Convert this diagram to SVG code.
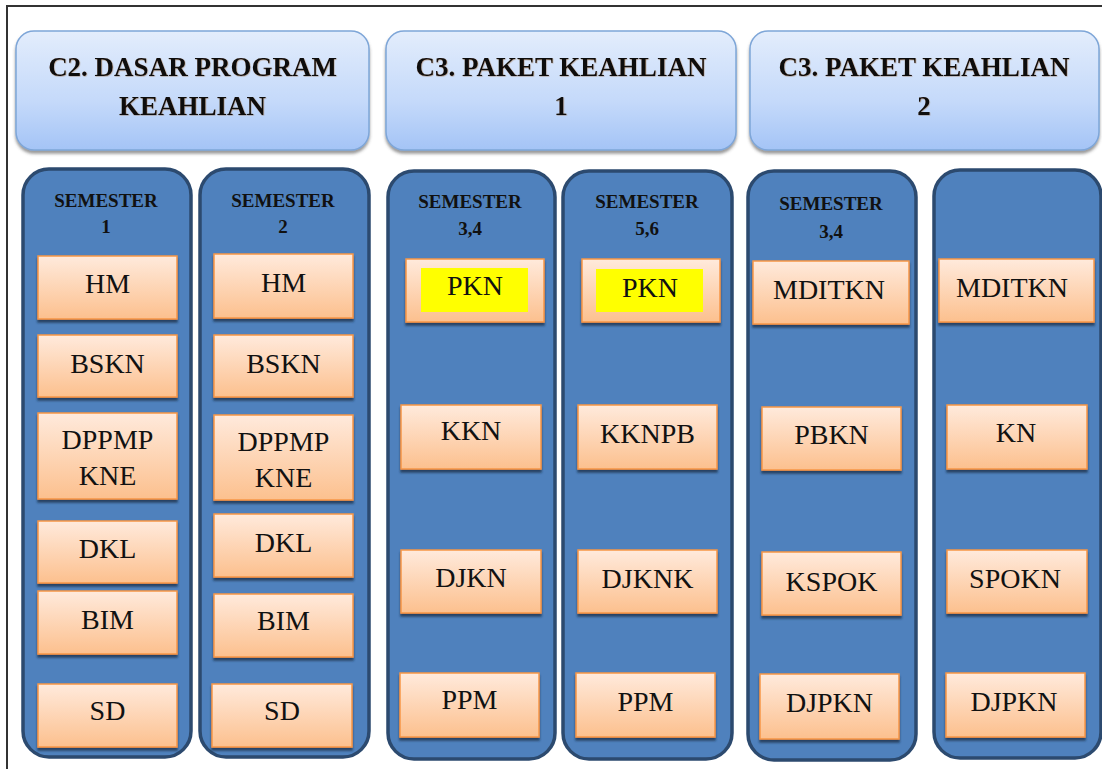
<svg xmlns="http://www.w3.org/2000/svg" width="1102" height="769" viewBox="0 0 1102 769">
<defs>
<linearGradient id="gHead" x1="0" y1="0" x2="0" y2="1">
<stop offset="0" stop-color="#e3edfc"/>
<stop offset="0.6" stop-color="#c4d9fa"/>
<stop offset="1" stop-color="#a4c4f6"/>
</linearGradient>
<linearGradient id="gBox" x1="0" y1="0" x2="0" y2="1">
<stop offset="0" stop-color="#ffeadc"/>
<stop offset="1" stop-color="#fcc08e"/>
</linearGradient>
<filter id="shHead" x="-5%" y="-5%" width="110%" height="120%">
<feDropShadow dx="0" dy="3" stdDeviation="1.5" flood-color="#555" flood-opacity="0.6"/>
</filter>
<filter id="shBox" x="-5%" y="-5%" width="110%" height="125%">
<feDropShadow dx="0" dy="3" stdDeviation="0.8" flood-color="#1e3552" flood-opacity="0.85"/>
</filter>
<filter id="shTxt" x="-5%" y="-10%" width="110%" height="130%">
<feDropShadow dx="0.5" dy="0.6" stdDeviation="0.4" flood-color="#8a5a2a" flood-opacity="0.5"/>
</filter>
</defs>
<style>
.head{fill:url(#gHead);stroke:#7ea6d8;stroke-width:1.5;filter:url(#shHead)}
.htxt{font-family:"Liberation Serif","Times New Roman",serif;font-weight:bold;font-size:27px;fill:#0a0a0a;text-anchor:middle;filter:url(#shTxt)}
.col{fill:#4f81bd;stroke:#2c4a6f;stroke-width:3.5}
.sem{font-family:"Liberation Serif","Times New Roman",serif;font-weight:bold;font-size:19px;fill:#111;text-anchor:middle}
.box{fill:url(#gBox);stroke:#f79646;stroke-width:1.5;filter:url(#shBox)}
.btxt{font-family:"Liberation Serif","Times New Roman",serif;font-size:28px;fill:#111;text-anchor:middle}
.hl{fill:#ffff00}
.frame{stroke:#333;stroke-width:2;fill:none}
</style>
<rect width="1102" height="769" fill="#fff"/>
<path class="frame" d="M7 769 V6 H1102"/>

<g id="header-c2">
<rect class="head" x="16" y="31" width="353" height="119" rx="18"/>
<text class="htxt" x="192.5" y="76">C2. DASAR PROGRAM</text>
<text class="htxt" x="192.5" y="115">KEAHLIAN</text>
</g>
<g id="header-c3-1">
<rect class="head" x="386" y="31" width="350" height="119" rx="18"/>
<text class="htxt" x="561" y="76">C3. PAKET KEAHLIAN</text>
<text class="htxt" x="561" y="115">1</text>
</g>
<g id="header-c3-2">
<rect class="head" x="750" y="31" width="349" height="119" rx="18"/>
<text class="htxt" x="924" y="76">C3. PAKET KEAHLIAN</text>
<text class="htxt" x="924" y="115">2</text>
</g>

<g id="col-sem1">
<rect class="col" x="23" y="169" width="168" height="588" rx="26"/>
<text class="sem" x="106" y="207">SEMESTER</text>
<text class="sem" x="106" y="233">1</text>
</g>
<g id="col-sem2">
<rect class="col" x="200" y="169" width="169" height="588" rx="26"/>
<text class="sem" x="283" y="207">SEMESTER</text>
<text class="sem" x="283" y="233">2</text>
</g>
<g id="col-sem34-p1">
<rect class="col" x="388" y="171" width="167" height="588" rx="26"/>
<text class="sem" x="470" y="208">SEMESTER</text>
<text class="sem" x="470" y="235">3,4</text>
</g>
<g id="col-sem56-p1">
<rect class="col" x="563" y="171" width="169" height="588" rx="26"/>
<text class="sem" x="647" y="208">SEMESTER</text>
<text class="sem" x="647" y="235">5,6</text>
</g>
<g id="col-sem34-p2">
<rect class="col" x="748" y="171" width="168" height="589" rx="26"/>
<text class="sem" x="831" y="210">SEMESTER</text>
<text class="sem" x="831" y="238">3,4</text>
</g>
<g id="col-p2-b">
<rect class="col" x="934" y="170" width="167" height="588" rx="26"/>
</g>

<g id="s1-hm"><rect class="box" x="38" y="256" width="139" height="63"/><text class="btxt" x="107.5" y="293">HM</text></g>
<g id="s1-bskn"><rect class="box" x="38" y="335" width="139" height="62"/><text class="btxt" x="107.5" y="373">BSKN</text></g>
<g id="s1-dppmp"><rect class="box" x="38" y="413" width="139" height="86"/><text class="btxt" x="107.5" y="449">DPPMP</text><text class="btxt" x="107.5" y="485">KNE</text></g>
<g id="s1-dkl"><rect class="box" x="38" y="521" width="139" height="62"/><text class="btxt" x="107.5" y="558">DKL</text></g>
<g id="s1-bim"><rect class="box" x="38" y="591" width="139" height="63"/><text class="btxt" x="107.5" y="629">BIM</text></g>
<g id="s1-sd"><rect class="box" x="38" y="684" width="139" height="63"/><text class="btxt" x="107.5" y="720">SD</text></g>

<g id="s2-hm"><rect class="box" x="214" y="254" width="139" height="64"/><text class="btxt" x="283.5" y="292">HM</text></g>
<g id="s2-bskn"><rect class="box" x="214" y="335" width="139" height="62"/><text class="btxt" x="283.5" y="373">BSKN</text></g>
<g id="s2-dppmp"><rect class="box" x="214" y="415" width="139" height="85"/><text class="btxt" x="283.5" y="451">DPPMP</text><text class="btxt" x="283.5" y="487">KNE</text></g>
<g id="s2-dkl"><rect class="box" x="214" y="514" width="139" height="63"/><text class="btxt" x="283.5" y="552">DKL</text></g>
<g id="s2-bim"><rect class="box" x="214" y="594" width="139" height="63"/><text class="btxt" x="283.5" y="630">BIM</text></g>
<g id="s2-sd"><rect class="box" x="212" y="684" width="140" height="63"/><text class="btxt" x="282" y="720">SD</text></g>

<g id="p1s34-pkn"><rect class="box" x="406" y="259" width="138" height="63"/><rect class="hl" x="421" y="268" width="107" height="44"/><text class="btxt" x="475" y="295">PKN</text></g>
<g id="p1s34-kkn"><rect class="box" x="401" y="405" width="140" height="64"/><text class="btxt" x="471" y="440">KKN</text></g>
<g id="p1s34-djkn"><rect class="box" x="401" y="550" width="140" height="63"/><text class="btxt" x="471" y="587">DJKN</text></g>
<g id="p1s34-ppm"><rect class="box" x="400" y="673" width="139" height="64"/><text class="btxt" x="469.5" y="709">PPM</text></g>

<g id="p1s56-pkn"><rect class="box" x="582" y="259" width="138" height="63"/><rect class="hl" x="596" y="269" width="107" height="43"/><text class="btxt" x="650" y="297">PKN</text></g>
<g id="p1s56-kknpb"><rect class="box" x="578" y="405" width="139" height="64"/><text class="btxt" x="647.5" y="443">KKNPB</text></g>
<g id="p1s56-djknk"><rect class="box" x="578" y="550" width="139" height="63"/><text class="btxt" x="647.5" y="588">DJKNK</text></g>
<g id="p1s56-ppm"><rect class="box" x="576" y="673" width="139" height="64"/><text class="btxt" x="645.5" y="711">PPM</text></g>

<g id="p2s34-mditkn"><rect class="box" x="753" y="261" width="156" height="63"/><text class="btxt" x="829" y="299">MDITKN</text></g>
<g id="p2s34-pbkn"><rect class="box" x="762" y="407" width="139" height="63"/><text class="btxt" x="831.5" y="444">PBKN</text></g>
<g id="p2s34-kspok"><rect class="box" x="762" y="552" width="139" height="63"/><text class="btxt" x="831.5" y="591">KSPOK</text></g>
<g id="p2s34-djpkn"><rect class="box" x="760" y="674" width="139" height="65"/><text class="btxt" x="829.5" y="712">DJPKN</text></g>

<g id="p2b-mditkn"><rect class="box" x="939" y="259" width="155" height="63"/><text class="btxt" x="1012" y="297">MDITKN</text></g>
<g id="p2b-kn"><rect class="box" x="947" y="405" width="140" height="64"/><text class="btxt" x="1016" y="442">KN</text></g>
<g id="p2b-spokn"><rect class="box" x="947" y="550" width="140" height="63"/><text class="btxt" x="1015" y="588">SPOKN</text></g>
<g id="p2b-djpkn"><rect class="box" x="946" y="673" width="139" height="64"/><text class="btxt" x="1014" y="711">DJPKN</text></g>
</svg>
